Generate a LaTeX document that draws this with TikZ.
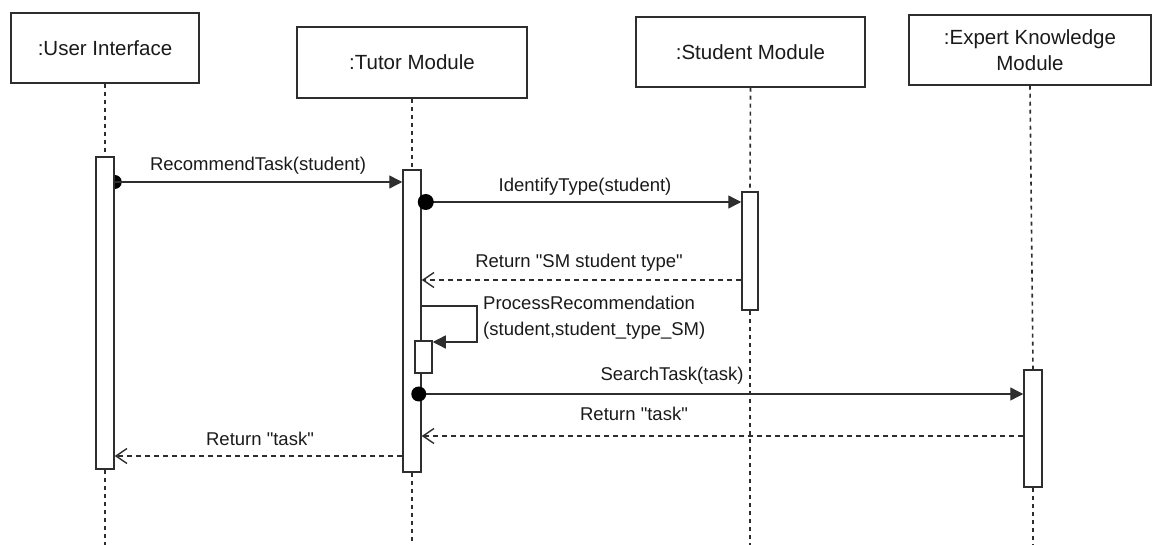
\documentclass[tikz,border=0pt]{standalone}
\usepackage{fontspec}
\setmainfont{Liberation Sans}
\usetikzlibrary{arrows.meta}
\definecolor{ink}{HTML}{2E2E2E}
\definecolor{txt}{HTML}{1A1A1A}
\pgfdeclarelayer{bg}
\pgfsetlayers{bg,main}
\newcommand{\dq}{\textquotedbl}
\begin{document}
\begin{tikzpicture}[x=1pt,y=-1pt,
  objbox/.style={draw=ink, line width=1.5pt, fill=white, inner sep=0pt,
    text=txt, font=\fontsize{20.5}{26}\selectfont, align=center},
  actbar/.style={draw=ink, line width=1.5pt, fill=white, inner sep=0pt},
  lifeline/.style={draw=ink, line width=1.6pt, dash pattern=on 4pt off 4pt},
  callmsg/.style={draw=ink, line width=1.4pt,
    -{Triangle[length=13pt,width=13pt]}},
  retmsg/.style={draw=ink, line width=1.4pt, dash pattern=on 5pt off 4pt,
    -{Straight Barb[length=11pt,width=15pt,line width=1.4pt]}},
  lbl/.style={text=txt, font=\fontsize{18.5}{26}\selectfont, inner sep=0pt},
  calldot/.style={fill=black}]
\useasboundingbox (0,0) rectangle (1152,545);

% participants
\node[objbox, minimum width=188, minimum height=70] (ui) at (105,48) {:User Interface};
\node[objbox, minimum width=230, minimum height=71] (tm) at (412,62.5) {:Tutor Module};
\node[objbox, minimum width=229, minimum height=70] (sm) at (750.5,52) {:Student Module};
\node[objbox, minimum width=242, minimum height=70] (ek) at (1030,50) {:Expert Knowledge\\Module};

% activation bars
\node[actbar, minimum width=18, minimum height=312] (uiA) at (105,313) {};
\node[actbar, minimum width=18, minimum height=302] (tmA) at (412,321) {};
\node[actbar, minimum width=17, minimum height=32]  (tmS) at (423.5,357) {};
\node[actbar, minimum width=16, minimum height=118] (smA) at (750,251) {};
\node[actbar, minimum width=18, minimum height=117] (ekA) at (1033,428.5) {};

% lifeline ends
\coordinate (uiEnd) at (105,545);
\coordinate (tmEnd) at (412,545);
\coordinate (smEnd) at (750,545);
\coordinate (ekEnd) at (1033,545);

% message levels
\coordinate (y1) at (0,182);
\coordinate (y2) at (0,202);
\coordinate (y3) at (0,280);
\coordinate (y4) at (0,306);
\coordinate (y5) at (0,342);
\coordinate (y6) at (0,394);
\coordinate (y7) at (0,436);
\coordinate (y8) at (0,456);
\coordinate (selfTurn) at (477,306);
\coordinate (selfDown) at (477,342);

\begin{pgfonlayer}{bg}
  \draw[lifeline] (ui.south) -- (uiA.north);
  \draw[lifeline] (uiA.south) -- (uiEnd);
  \draw[lifeline] (tm.south) -- (tmA.north);
  \draw[lifeline] (tmA.south) -- (tmEnd);
  \draw[lifeline] (sm.south) -- (smA.north);
  \draw[lifeline] (smA.south) -- (smEnd);
  \draw[lifeline] (ek.south) -- (ekA.north);
  \draw[lifeline] (ekA.south) -- (ekEnd);
  % start of the first call sits under the caller's bar
  \fill[calldot] (uiA.east |- y1) circle (7);
\end{pgfonlayer}

% RecommendTask
\draw[callmsg] (uiA.east |- y1) -- (tmA.west |- y1);
\node[lbl] (m1) at (258,166) {RecommendTask(student)};

% IdentifyType
\draw[callmsg] (tmA.east |- y2) -- (smA.west |- y2);
\fill[calldot] ([xshift=4pt]tmA.east |- y2) circle (8);
\node[lbl] (m2) at (585,187) {IdentifyType(student)};

% reply from the student module
\draw[retmsg] (smA.west |- y3) -- (tmA.east |- y3);
\node[lbl] (m3) at (579,263) {Return \dq SM student type\dq};

% self call
\draw[callmsg] (tmA.east |- y4) -- (selfTurn) -- (selfDown) -- (tmS.east |- y5);
\node[lbl, anchor=west, align=left] (m4) at (483,318)
  {ProcessRecommendation\\(student,student\_type\_SM)};

% SearchTask
\draw[callmsg] ([xshift=-3pt]tmA.east |- y6) -- (ekA.west |- y6);
\fill[calldot] ([xshift=-3pt]tmA.east |- y6) circle (7.5);
\node[lbl] (m5) at (672,376) {SearchTask(task)};

% reply from the expert module
\draw[retmsg] (ekA.west |- y7) -- (tmA.east |- y7);
\node[lbl] (m6) at (634,414) {Return \dq task\dq};

% reply to the user interface
\draw[retmsg] (tmA.west |- y8) -- (uiA.east |- y8);
\node[lbl] (m7) at (260,439) {Return \dq task\dq};
\end{tikzpicture}
\end{document}
